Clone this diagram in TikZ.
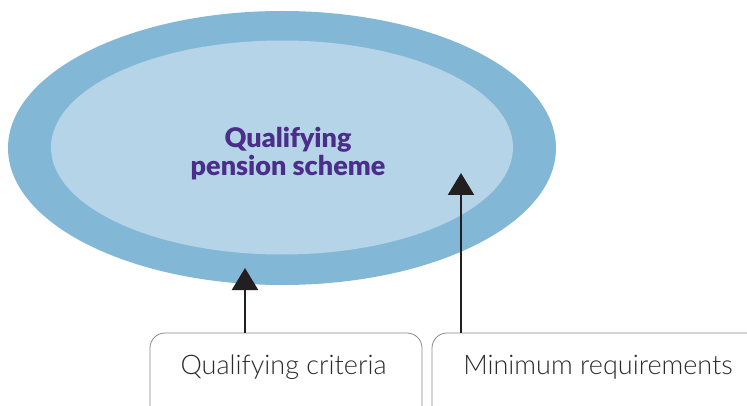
\documentclass[tikz,border=0pt]{standalone}
\usepackage{fontspec}
\setmainfont{Lato}
\newfontfamily\lightfont{Lato Light}
\newfontfamily\heavyfont{Lato Black}
\usetikzlibrary{arrows.meta}
\definecolor{outerblue}{HTML}{82B8D6}
\definecolor{innerblue}{HTML}{B6D4E7}
\definecolor{titlepurple}{HTML}{4B2D8A}
\definecolor{arrowdark}{HTML}{231F20}
\definecolor{boxgray}{HTML}{8A8A8A}
\definecolor{labelgray}{HTML}{2B2B2B}
\tikzset{
  outerell/.style={fill=outerblue, draw=none},
  innerell/.style={fill=innerblue, draw=none},
  labelbox/.style={draw=boxgray, line width=0.8pt, rounded corners=15pt, inner sep=0pt},
  labeltext/.style={font=\lightfont\fontsize{27}{32}\selectfont, text=labelgray, inner sep=0pt},
  titletext/.style={font=\heavyfont\fontsize{27}{28}\selectfont, text=titlepurple, align=center, inner sep=0pt},
  arr/.style={draw=arrowdark, line width=2.4pt, -{Triangle[width=26pt,length=22pt]}}
}
\begin{document}
\begin{tikzpicture}[x=1pt,y=-1pt]
\useasboundingbox (0,0) rectangle (747,406);
\clip (0,0) rectangle (747,406);
\fill[white] (0,0) rectangle (747,406);
\path[outerell] (282,148) ellipse [x radius=274, y radius=137];
\path[innerell] (282,147.5) ellipse [x radius=231, y radius=107];
\node[titletext] (title) at (288,154) {Qualifying\\pension scheme};
\node[labelbox, minimum width=272pt, minimum height=97pt] (box1) at (286,381.5) {};
\node[labelbox, minimum width=330pt, minimum height=97pt] (box2) at (597,381.5) {};
\node[labeltext] (txt1) at (283.5,367) {Qualifying criteria};
\node[labeltext] (txt2) at (598,367) {Minimum requirements};
\coordinate (tip1) at (245,268);
\coordinate (tip2) at (461,173);
\draw[arr] (box1.north -| tip1) -- (tip1);
\draw[arr] (box2.north -| tip2) -- (tip2);
\end{tikzpicture}
\end{document}
